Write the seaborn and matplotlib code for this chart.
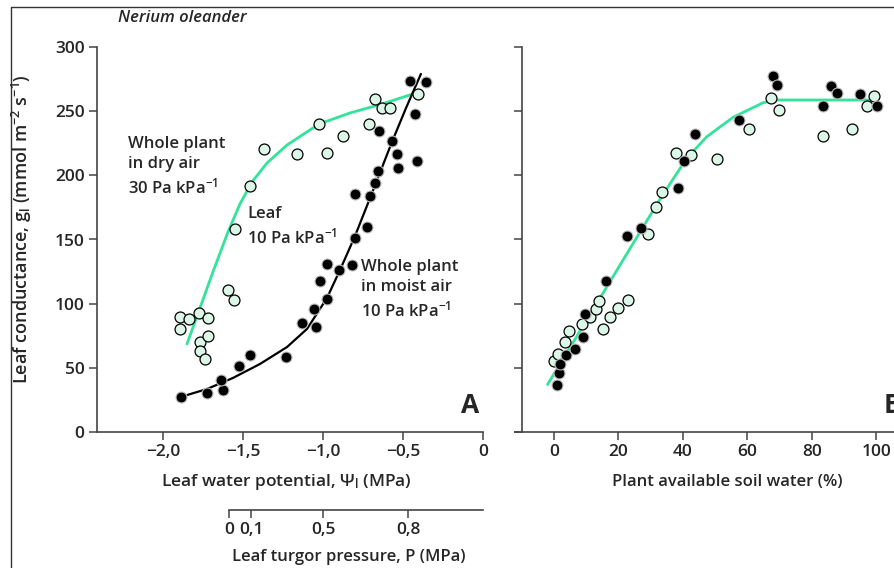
import numpy as np
import pandas as pd
import matplotlib
matplotlib.use('Agg')
import matplotlib.pyplot as plt
from matplotlib.lines import Line2D
import seaborn as sns

# panel A: leaf water potential (MPa) vs leaf conductance (mmol m-2 s-1)
dry_psi = [-1.894, -1.894, -1.838, -1.775, -1.717, -1.769, -1.717, -1.769, -1.740,
           -1.596, -1.558, -1.550, -1.456, -1.369, -1.163, -1.027, -0.975, -0.875,
           -0.710, -0.678, -0.630, -0.580, -0.406]
dry_g = [90, 80, 88, 92.5, 89, 70.5, 74.5, 63.5, 56.5,
         111, 103, 158, 192, 220.5, 216.5, 240, 217.5, 230.5,
         240, 259.5, 252.5, 252.5, 263.5]

moist_psi = [-1.885, -1.727, -1.625, -1.638, -1.525, -1.458, -1.231, -1.133, -1.046,
             -1.054, -0.975, -1.017, -0.975, -0.902, -0.817, -0.798, -0.725, -0.798,
             -0.704, -0.677, -0.656, -0.650, -0.567, -0.538, -0.533, -0.410, -0.425,
             -0.456, -0.354]
moist_g = [27.3, 30.4, 33, 40.8, 51.4, 59.8, 58.4, 84.9, 81.6,
           96.1, 103.9, 117.5, 131.2, 126.2, 129.9, 150.9, 159.7, 185.7,
           184.1, 194.3, 203.1, 234.8, 226.7, 216.4, 205.5, 211.2, 247.8,
           273.5, 273]

dry_fit_psi = [-1.85, -1.769, -1.688, -1.594, -1.519, -1.444, -1.35, -1.225,
               -1.025, -0.831, -0.631, -0.438]
dry_fit_g = [68.6, 96.6, 124.7, 155.8, 177.7, 194.8, 209.6, 223.6,
             240.0, 248.6, 255.6, 263.4]

moist_fit_psi = [-1.85, -1.725, -1.563, -1.394, -1.225, -1.1, -0.975, -0.888,
                 -0.8, -0.706, -0.569, -0.481, -0.388]
moist_fit_g = [28.8, 33.5, 42.1, 53.0, 66.2, 80.3, 104.4, 127.8,
               152.7, 182.3, 226.0, 252.5, 279.0]

# secondary scale: leaf turgor pressure at given leaf water potentials
turgor_psi = [-1.5875, -1.45, -1.0, -0.469]
turgor_labels = ['0', '0,1', '0,5', '0,8']

# panel B: plant available soil water (%) vs leaf conductance
soil_open_x = [0.1, 1.3, 3.3, 4.6, 8.6, 11.3, 13.0, 13.9, 15.3, 17.5, 20.0, 23.0,
               29.1, 31.5, 33.5, 37.9, 42.6, 50.6, 60.6, 67.2, 69.7, 83.5, 92.4,
               97.0, 99.3]
soil_open_g = [55.6, 61, 70.1, 78.9, 83.9, 89.8, 96.1, 102.1, 80, 89.4, 96.6, 102.6,
               154, 175.6, 187, 217.4, 216.1, 213, 235.8, 260, 250.9, 230.4, 236.3,
               253.8, 261.8]
soil_filled_x = [0.9, 1.5, 1.8, 3.7, 6.6, 9.0, 9.5, 16.1, 22.7, 27.1, 38.6, 40.2,
                 43.6, 57.3, 67.8, 69.3, 83.5, 85.8, 87.9, 95.0, 100.2]
soil_filled_g = [36.9, 45.7, 52.7, 59.8, 64.4, 74, 92.2, 117.7, 152.5, 159.2, 190.4,
                 211.2, 232.4, 243.1, 277.2, 270.6, 253.8, 269.6, 263.9, 263.1, 254.2]

soil_fit_x = [-2.0, 32.0, 36.0, 41.2, 47.4, 55.6, 64.9, 69.1, 99.1]
soil_fit_g = [37.0, 177.8, 193.5, 213.3, 230.1, 245.3, 256.6, 258.7, 258.7]

psi_ticks = [-2.0, -1.5, -1.0, -0.5, 0]
psi_labels = ['\u22122,0', '\u22121,5', '\u22121,0', '\u22120,5', '0']
soil_ticks = [0, 20, 40, 60, 80, 100]
g_ticks = [0, 50, 100, 150, 200, 250, 300]

sns.set_style('ticks')
plt.rcParams['font.family'] = ['Open Sans', 'DejaVu Sans']
plt.rcParams['font.weight'] = 'semibold'
plt.rcParams['mathtext.default'] = 'regular'

green = '#33e39a'
pale = '#dcf7e8'
spine_c = '#444444'

fig = plt.figure(figsize=(8.94, 5.68), dpi=100)
W, H = 894, 568
axA = fig.add_axes([97 / W, 1 - 432 / H, 386 / W, 385 / H])
axB = fig.add_axes([515 / W, 1 - 432 / H, 410 / W, 385 / H])

# panel A
sns.lineplot(x=dry_fit_psi, y=dry_fit_g, ax=axA, color=green, lw=2.0, zorder=1)
sns.lineplot(x=moist_fit_psi, y=moist_fit_g, ax=axA, color='black', lw=1.6, zorder=1)
sns.scatterplot(x=dry_psi, y=dry_g, ax=axA, color=pale, edgecolor='black',
                linewidth=0.9, s=62, zorder=3)
sns.scatterplot(x=moist_psi, y=moist_g, ax=axA, color='black', edgecolor='#bbbbbb',
                linewidth=0.8, s=62, zorder=3)

axA.set_xlim(-2.0 - 66 / 160, 0)
axA.set_ylim(0, 300)
axA.set_xticks(psi_ticks, labels=psi_labels)
axA.set_yticks(g_ticks)

# panel B
sns.lineplot(x=soil_fit_x, y=soil_fit_g, ax=axB, color=green, lw=2.0, zorder=1)
sns.scatterplot(x=soil_open_x, y=soil_open_g, ax=axB, color=pale, edgecolor='black',
                linewidth=0.9, s=62, zorder=3)
sns.scatterplot(x=soil_filled_x, y=soil_filled_g, ax=axB, color='black',
                edgecolor='#bbbbbb', linewidth=0.8, s=62, zorder=3)
axB.set_xlim(-39 / 3.2235, 410 / 3.2235 - 39 / 3.2235)
axB.set_ylim(0, 300)
axB.set_xticks(soil_ticks)
axB.set_yticks(g_ticks)
axB.tick_params(axis='y', labelleft=False)
axB.spines['left'].set_position(('data', -32 / 3.2235))

for ax in (axA, axB):
    sns.despine(ax=ax)
    for s in ('left', 'bottom'):
        ax.spines[s].set_color(spine_c)
        ax.spines[s].set_linewidth(1.2)
    ax.tick_params(direction='out', length=6, width=1.1, color=spine_c,
                   labelsize=12.5, pad=3)
    ax.set_xlabel('')
    ax.set_ylabel('')

# turgor pressure scale under panel A
sec = axA.secondary_xaxis(-78 / 385)
sec.set_xticks(turgor_psi, labels=turgor_labels)
sec.spines['bottom'].set_bounds(turgor_psi[0], 0)
sec.spines['bottom'].set_color(spine_c)
sec.spines['bottom'].set_linewidth(1.2)
sec.tick_params(direction='out', length=6, width=1.1, color=spine_c,
                labelsize=12.5, pad=3)

# labels
fig.text(22 / W, 1 - 229 / H,
         'Leaf conductance, g$_{l}$ (mmol m$^{-2}$ s$^{-1}$)',
         rotation=90, ha='center', va='center', fontsize=13)
fig.text(286 / W, 1 - 482 / H, 'Leaf water potential, \u03a8$_{l}$ (MPa)',
         ha='center', va='center', fontsize=12.5)
fig.text(727 / W, 1 - 482 / H, 'Plant available soil water (%)',
         ha='center', va='center', fontsize=12)
fig.text(349 / W, 1 - 557 / H, 'Leaf turgor pressure, P (MPa)',
         ha='center', va='center', fontsize=12)
fig.text(118 / W, 1 - 18 / H, 'Nerium oleander', style='italic',
         ha='left', va='center', fontsize=12)

axA.text(-2.219, 206.5, 'Whole plant\nin dry air\n30 Pa kPa$^{-1}$', fontsize=12,
         linespacing=1.35, ha='left', va='center')
axA.text(-1.475, 160, 'Leaf\n10 Pa kPa$^{-1}$', fontsize=12,
         linespacing=1.35, ha='left', va='center')
axA.text(-0.7625, 110.6, 'Whole plant\nin moist air\n10 Pa kPa$^{-1}$', fontsize=12,
         linespacing=1.35, ha='left', va='center')
axA.text(0.966, 0.07, 'A', transform=axA.transAxes, fontsize=19,
         fontweight='bold', ha='center', va='center')
axB.text(104.9, 0.07, 'B', transform=axB.get_xaxis_transform(), fontsize=19,
         fontweight='bold', ha='center', va='center')

# frame lines
fig.add_artist(Line2D([11 / W, 11 / W, 1], [0, 1 - 7 / H, 1 - 7 / H],
                      transform=fig.transFigure, color='#333333', lw=1.0))

fig.savefig('out.png', dpi=100)
